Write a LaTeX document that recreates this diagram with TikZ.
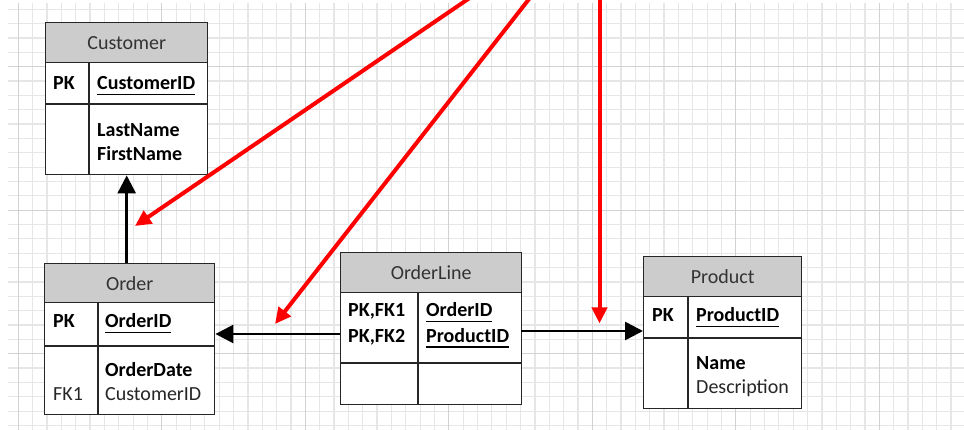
\documentclass[tikz,border=0pt]{standalone}
\usepackage{fontspec}
\setmainfont{Carlito}
\usetikzlibrary{arrows.meta}
\definecolor{gminor}{HTML}{E6E6E6}
\definecolor{gmajor}{HTML}{D2D2D2}
\definecolor{tlinec}{HTML}{262626}
\definecolor{hdrgray}{HTML}{CCCCCC}
\definecolor{hdrtext}{HTML}{333333}
\definecolor{regtext}{HTML}{262626}
\definecolor{redc}{HTML}{FF0000}
\newcommand\tf{\fontsize{20}{24}\selectfont}
\newcommand\ulx[1]{\setbox0\hbox{#1}\rlap{\rule[-5.5pt]{\wd0}{1.4pt}}\box0}
\tikzset{
  gmin/.style={draw=gminor, line width=1.2pt},
  gmaj/.style={draw=gmajor, line width=1.3pt},
  tbl/.style={draw=tlinec, line width=1.4pt, fill=white, inner sep=0pt, anchor=north west},
  hdr/.style={draw=tlinec, line width=1.4pt, fill=hdrgray, inner sep=0pt, anchor=north west, text=hdrtext, font=\tf},
  tline/.style={draw=tlinec, line width=1.4pt},
  bt/.style={anchor=base west, inner sep=0pt, font=\tf\bfseries, text=black},
  rt/.style={anchor=base west, inner sep=0pt, font=\tf, text=regtext},
  blkarrow/.style={draw=black, line width=2.6pt, -{Triangle[length=18pt,width=18pt]}},
  redarrow/.style={draw=redc, line width=4pt, -{Triangle[length=16pt,width=15pt]}},
}
\begin{document}
\begin{tikzpicture}[x=1pt,y=-1pt]
\useasboundingbox (0,0) rectangle (964,430);
\clip (0,0) rectangle (964,430);
\fill[white] (0,0) rectangle (964,430);
% grid
\foreach \i in {0,...,65} \draw[gmin] ({18.3+14.35*\i},3) -- ({18.3+14.35*\i},430);
\foreach \j in {0,...,29} \draw[gmin] (8,{9.3+14.35*\j}) -- (964,{9.3+14.35*\j});
\foreach \i in {0,10,...,60} \draw[gmaj] ({18.3+14.35*\i},3) -- ({18.3+14.35*\i},430);
\foreach \j in {4,14,24} \draw[gmaj] (8,{9.3+14.35*\j}) -- (964,{9.3+14.35*\j});

% Customer
\node[tbl, minimum width=162pt, minimum height=152pt] (customer) at (45,22) {};
\node[hdr, minimum width=162pt, minimum height=40pt] (customerhead) at (45,22) {Customer};
\draw[tline] (45,104) -- (207,104);
\draw[tline] (89,62) -- (89,174);
\node[bt] (cpk) at (53,89.5) {PK};
\node[bt] (cid) at (97,89.5) {\ulx{CustomerID}};
\node[bt] (cln) at (97,137) {LastName};
\node[bt] (cfn) at (97,160.5) {FirstName};

% Order
\node[tbl, minimum width=170pt, minimum height=151pt] (order) at (44,263) {};
\node[hdr, minimum width=170pt, minimum height=39pt] (orderhead) at (44,263) {Order};
\draw[tline] (44,346) -- (214,346);
\draw[tline] (98,302) -- (98,414);
\node[bt] (opk) at (53,328) {PK};
\node[bt] (oid) at (105,328) {\ulx{OrderID}};
\node[bt] (odate) at (105,376.5) {OrderDate};
\node[rt] (ofk) at (53,400.5) {FK1};
\node[rt] (ocid) at (105,400.5) {CustomerID};

% OrderLine
\node[tbl, minimum width=181pt, minimum height=152pt] (orderline) at (340,252) {};
\node[hdr, minimum width=181pt, minimum height=40pt] (orderlinehead) at (340,252) {OrderLine};
\draw[tline] (340,363) -- (521,363);
\draw[tline] (418,292) -- (418,404);
\node[bt] (lpk1) at (348,317) {PK,FK1};
\node[bt] (lpk2) at (348,342) {PK,FK2};
\node[bt] (loid) at (426,317) {\ulx{OrderID}};
\node[bt] (lpid) at (426,342) {\ulx{ProductID}};

% Product
\node[tbl, minimum width=158pt, minimum height=152pt] (product) at (643,256) {};
\node[hdr, minimum width=158pt, minimum height=40pt] (producthead) at (643,256) {Product};
\draw[tline] (643,338) -- (801,338);
\draw[tline] (688,296) -- (688,408);
\node[bt] (ppk) at (652,322) {PK};
\node[bt] (pid) at (696,322) {\ulx{ProductID}};
\node[bt] (pname) at (696,370) {Name};
\node[rt] (pdesc) at (696,393.5) {Description};

% black connectors
\coordinate (olleft) at (340,334);
\coordinate (olright) at (521,331);
\draw[blkarrow] (order.north -| customer.south) -- (customer.south);
\draw[blkarrow] (olleft) -- (olleft -| order.east);
\draw[blkarrow] (olright) -- (olright -| product.west);

% red arrows
\coordinate (r1s) at (471.1,-3);
\coordinate (r1e) at (135,226);
\coordinate (r2s) at (530.6,-3);
\coordinate (r2e) at (275,324);
\coordinate (r3s) at (599.5,-3);
\coordinate (r3e) at (599.5,323.5);
\draw[redarrow] (r1s) -- (r1e);
\draw[redarrow] (r2s) -- (r2e);
\draw[redarrow] (r3s) -- (r3e);
\end{tikzpicture}
\end{document}
